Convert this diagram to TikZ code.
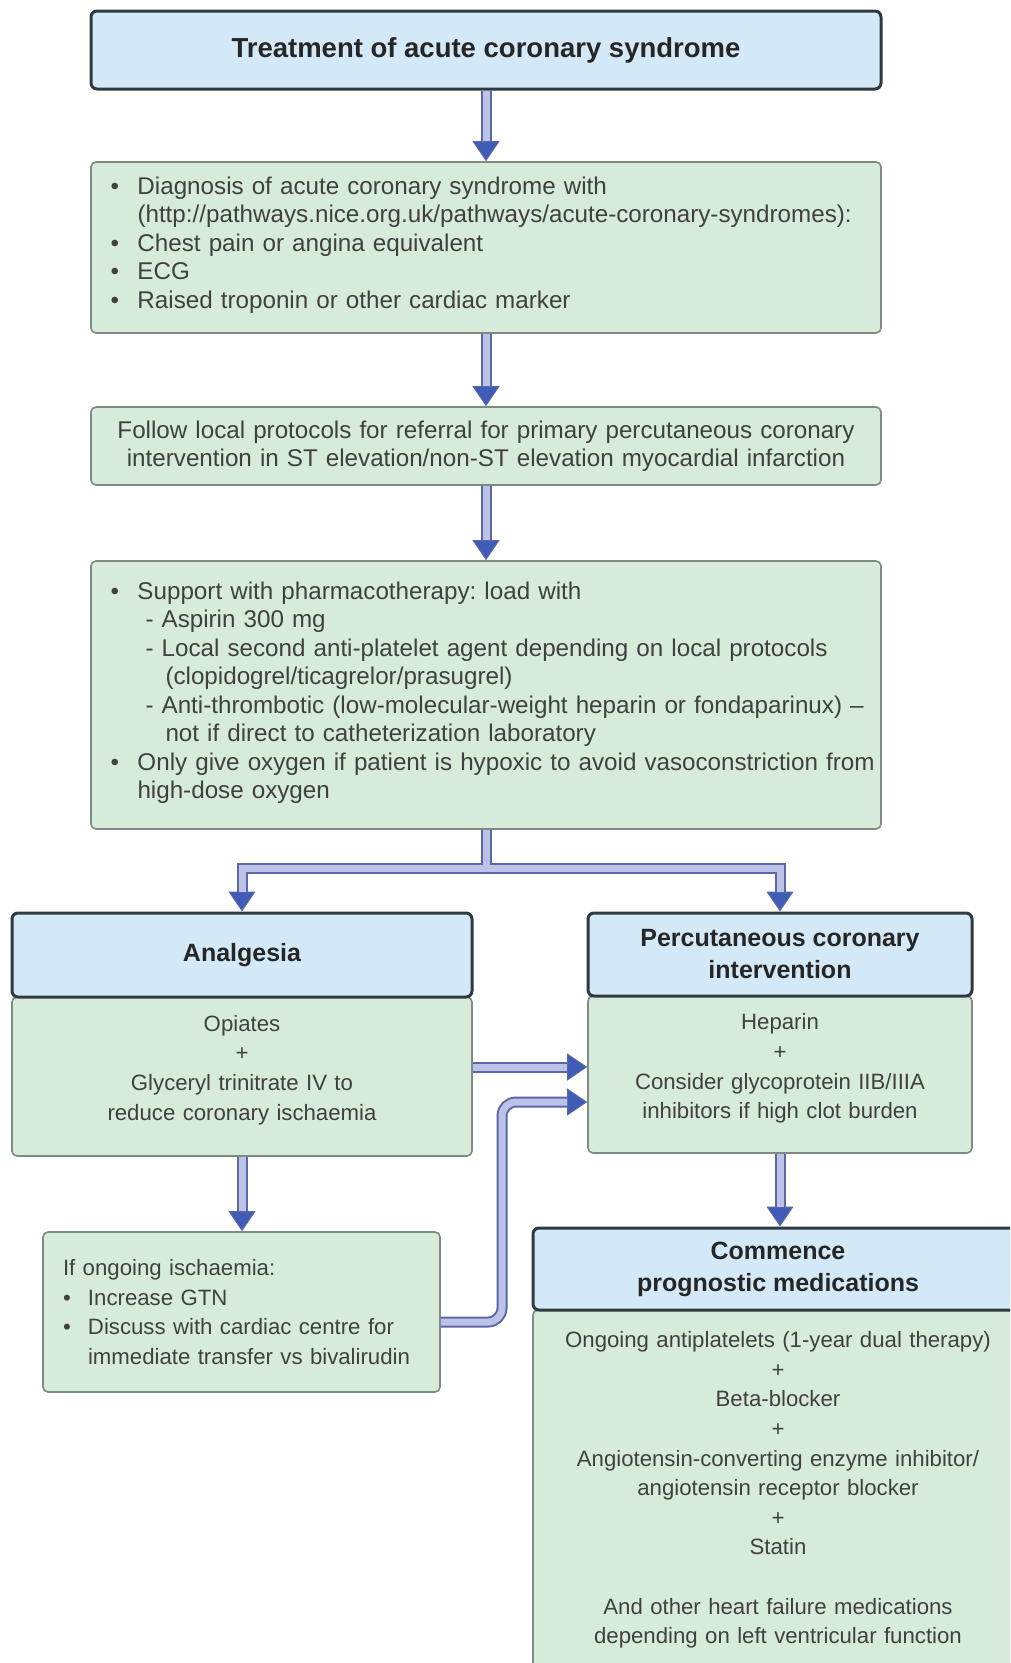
\documentclass[tikz,border=0pt]{standalone}
\usepackage{fontspec}
\setmainfont{Liberation Sans}
\usetikzlibrary{arrows.meta}

\definecolor{headfill}{HTML}{D3E9F7}
\definecolor{headline}{HTML}{2E3A3F}
\definecolor{bodyfill}{HTML}{D6EBDA}
\definecolor{bodyline}{HTML}{7E8B83}
\definecolor{pipeline}{HTML}{5B68A8}
\definecolor{pipefill}{HTML}{BCC3E7}
\definecolor{pipetip}{HTML}{3F5CB6}
\definecolor{txt}{HTML}{404040}

% bullet line and indented line, kept unbreakable
\newcommand{\bitem}[2][27pt]{\mbox{\makebox[#1][l]{\textbullet}#2}}
\newcommand{\indline}[2]{\mbox{\hspace*{#1}#2}}
\frenchspacing

\begin{document}
\begin{tikzpicture}[x=1pt,y=-1pt,
    head/.style={draw=headline, line width=3pt, fill=headfill, rounded corners=6pt,
      font=\fontsize{25}{32}\selectfont\bfseries, text=black!85, align=center},
    body/.style={draw=bodyline, line width=1.6pt, fill=bodyfill, rounded corners=5pt,
      text=txt, inner sep=0pt},
    big/.style={font=\fontsize{24.2}{28.5}\selectfont},
    small/.style={font=\fontsize{22.2}{29.6}\selectfont},
    tube/.style={draw=pipeline, line width=11pt, postaction={draw=pipefill, line width=7pt}},
    pipe/.style={draw=pipeline, line width=11pt,
      -{Triangle[length=20pt,width=27pt,line width=1pt,fill=pipetip]},
      postaction={draw=pipefill, line width=7pt, -, shorten >=20pt}}]
  \useasboundingbox (0,0) rectangle (1010,1663);
  \clip (0,0) rectangle (1010,1663);
  \fill[white] (0,0) rectangle (1010,1663);

  % main column
  \node[head, minimum width=790pt, minimum height=78pt,
    font=\fontsize{27.5}{32}\selectfont\bfseries] (title) at (486,50) {Treatment of acute coronary syndrome};
  \node[body, big, minimum width=790pt, minimum height=171pt, text width=751pt, align=left] (diag) at (486,247.5) {%
    \bitem{Diagnosis of acute coronary syndrome with}\\
    \indline{27pt}{(http://pathways.nice.org.uk/pathways/acute-coronary-syndromes):}\\
    \bitem{Chest pain or angina equivalent}\\
    \bitem{ECG}\\
    \bitem{Raised troponin or other cardiac marker}\par\vspace{5pt}};
  \node[body, big, minimum width=790pt, minimum height=78pt, text width=751pt, align=center] (follow) at (486,446) {%
    Follow local protocols for referral for primary percutaneous coronary\\
    intervention in ST elevation/non-ST elevation myocardial infarction};
  \node[body, big, minimum width=790pt, minimum height=268pt, text width=751pt, align=left] (support) at (486,695) {%
    \bitem{Support with pharmacotherapy: load with}\\
    \indline{35pt}{- Aspirin 300 mg}\\
    \indline{35pt}{- Local second anti-platelet agent depending on local protocols}\\
    \indline{55pt}{(clopidogrel/ticagrelor/prasugrel)}\\
    \indline{35pt}{- Anti-thrombotic (low-molecular-weight heparin or fondaparinux) --}\\
    \indline{55pt}{not if direct to catheterization laboratory}\\
    \bitem{Only give oxygen if patient is hypoxic to avoid vasoconstriction from}\\
    \indline{27pt}{high-dose oxygen}\par\vspace{5pt}};

  % left branch
  \node[body, small, minimum width=460pt, minimum height=159pt, text width=440pt, align=center] (analgbody) at (242,1076.5) {%
    Opiates\\+\\Glyceryl trinitrate IV to\\reduce coronary ischaemia\par\vspace{13pt}};
  \node[head, minimum width=460pt, minimum height=84pt] (analghead) at (242,955) {Analgesia};
  \node[body, small, minimum width=397pt, minimum height=160pt, text width=357pt, align=left] (ongoing) at (241.5,1312) {%
    If ongoing ischaemia:\\
    \bitem[25pt]{Increase GTN}\\
    \bitem[25pt]{Discuss with cardiac centre for}\\
    \indline{25pt}{immediate transfer vs bivalirudin}};

  % right branch
  \node[body, small, minimum width=384pt, minimum height=157pt, text width=364pt, align=center] (pcibody) at (780,1074.5) {%
    Heparin\\+\\Consider glycoprotein IIB/IIIA\\inhibitors if high clot burden\par\vspace{12pt}};
  \node[head, minimum width=384pt, minimum height=83pt] (pcihead) at (780,954.5) {Percutaneous coronary\\intervention};
  \node[body, small, minimum width=490pt, minimum height=360pt, text width=470pt, align=center] (commbody) at (778,1490) {%
    Ongoing antiplatelets (1-year dual therapy)\\+\\Beta-blocker\\+\\
    Angiotensin-converting enzyme inhibitor/\\angiotensin receptor blocker\\+\\Statin\\[29.6pt]
    And other heart failure medications\\depending on left ventricular function};
  \node[head, minimum width=490pt, minimum height=82pt] (commhead) at (778,1269) {Commence\\prognostic medications};

  % arrows
  \foreach \a/\b in {title/diag, diag/follow, follow/support}
    \draw[pipe] (\a) -- (\b);
  \coordinate (split) at (486,868);
  \draw[pipe] (split) -| (analghead.north);
  \draw[pipe] (split) -| (pcihead.north);
  \draw[tube] (support.south) -- ([yshift=3.5pt]split);
  \draw[pipe] (analgbody.south) -- (analgbody.south |- ongoing.north);
  \draw[pipe] (pcibody.south) -- (pcibody.south |- commhead.north);
  \coordinate (gtn) at ([yshift=9.5pt]analgbody.east);
  \draw[pipe] (gtn) -- (gtn -| pcibody.west);
  \coordinate (bend) at (502,1102);
  \draw[pipe, rounded corners=14pt] ([yshift=-10pt]ongoing.east) -| (bend) -- (bend -| pcibody.west);
\end{tikzpicture}
\end{document}
